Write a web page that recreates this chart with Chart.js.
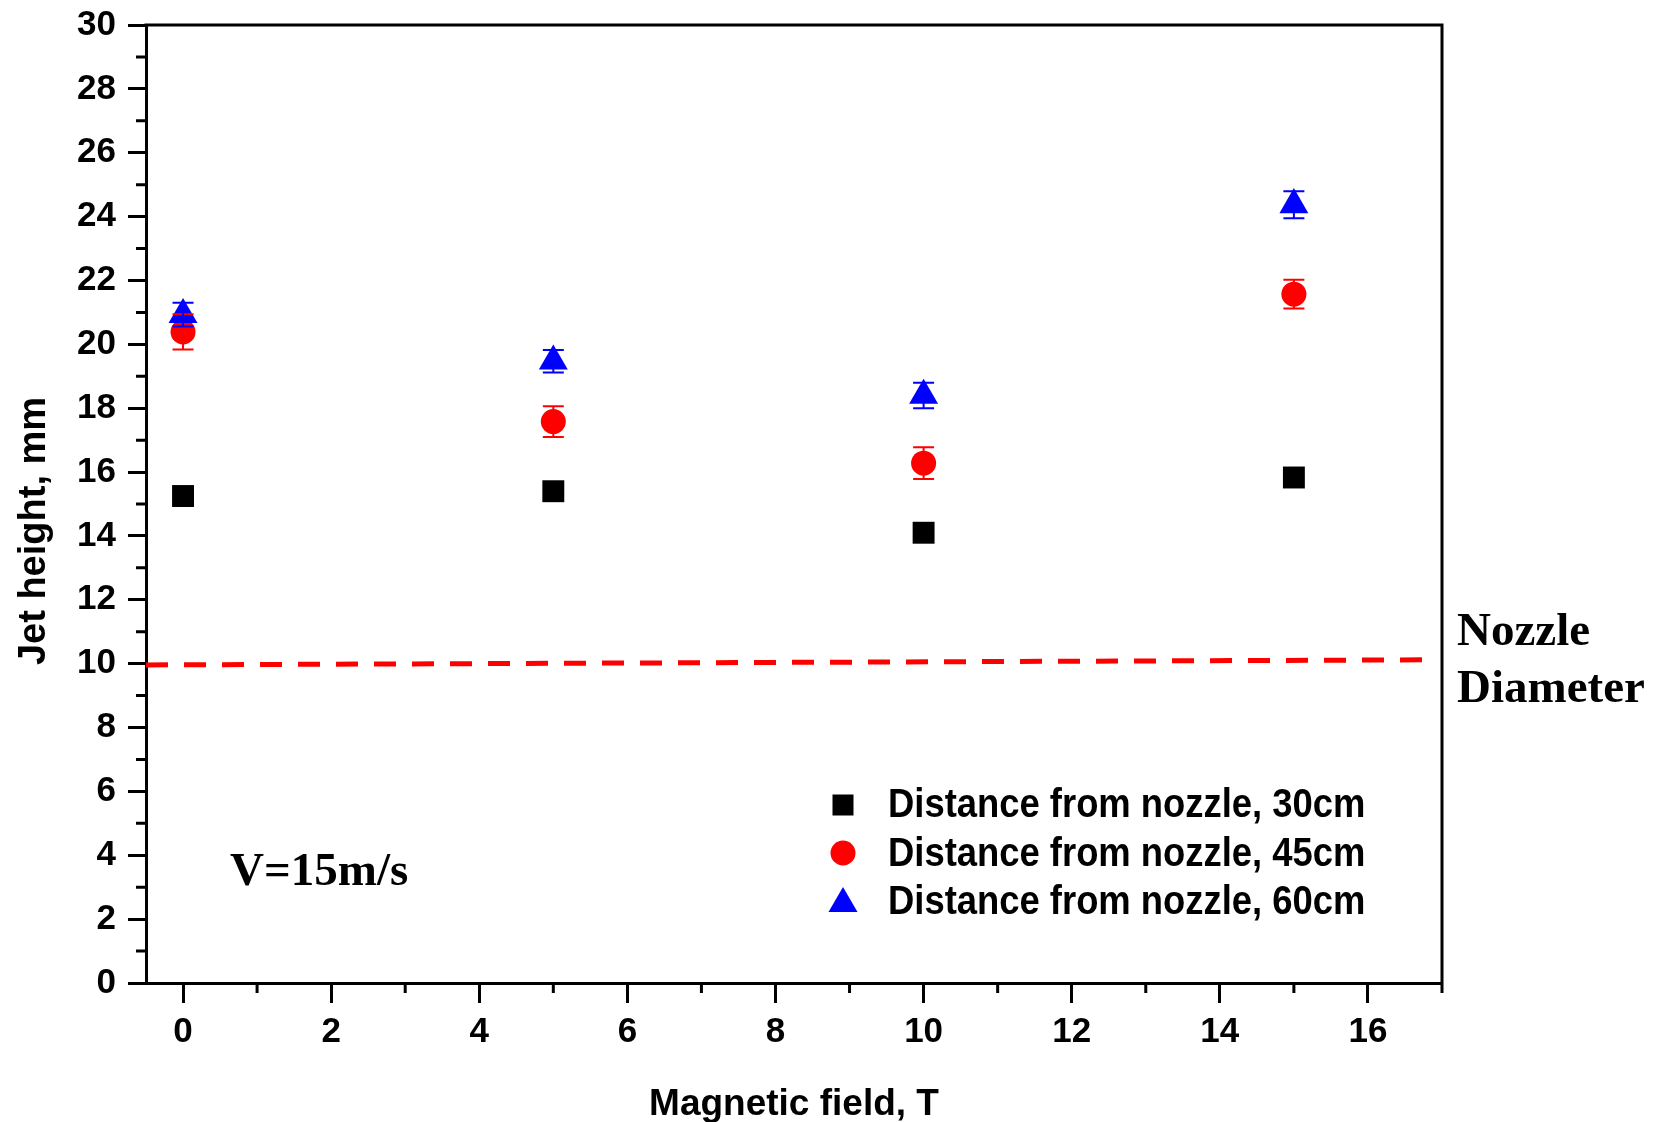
<!DOCTYPE html>
<html>
<head>
<meta charset="utf-8">
<script src="https://cdn.jsdelivr.net/npm/chart.js@4.4.1/dist/chart.umd.min.js"></script>
<style>
html,body{margin:0;padding:0;background:#fff;}
#wrap{width:1668px;height:1122px;position:relative;}
</style>
</head>
<body>
<div id="wrap"><canvas id="c"></canvas></div>
<script>
// ---- data ----
const fieldT = [0, 5, 10, 15];
const height30 = [15.25, 15.40, 14.10, 15.83];
const height45 = [20.39, 17.58, 16.28, 21.57];
const err45 = [0.55, 0.48, 0.50, 0.45];
const height60 = [20.93, 19.47, 18.40, 24.37];
const err60 = [0.37, 0.35, 0.40, 0.42];
const nozzleX = [-0.5, 16.78];
const nozzleY = [9.96, 10.12];
const seriesLabels = ['Distance from nozzle, 30cm', 'Distance from nozzle, 45cm', 'Distance from nozzle, 60cm'];
const xTitle = 'Magnetic field, T';
const yTitle = 'Jet height, mm';
const noteText = 'V=15m/s';
const nozzleText = ['Nozzle', 'Diameter'];
const xRange = [-0.5, 17];
const yRange = [0, 30];
const xMajorTickLabels = ['0','2','4','6','8','10','12','14','16'];
const yMajorTickLabels = ['0','2','4','6','8','10','12','14','16','18','20','22','24','26','28','30'];

const toPts = (xs, ys) => xs.map((v, i) => ({x: v, y: ys[i]}));
const isMajorX = v => xMajorTickLabels.includes(String(v));
const isMajorY = v => yMajorTickLabels.includes(String(v));

Chart.defaults.font.family = "'Liberation Sans', Arial, sans-serif";
Chart.defaults.color = '#000';

const deco = {
  id: 'deco',
  afterDatasetsDraw(chart) {
    const {ctx, scales: {x, y}} = chart;
    chart.data.datasets.forEach(ds => {
      if (!ds.errors) return;
      ctx.save();
      ctx.strokeStyle = ds.borderColor;
      ctx.lineWidth = 2;
      ds.data.forEach((p, i) => {
        const e = ds.errors[i];
        const px = x.getPixelForValue(p.x);
        const y1 = y.getPixelForValue(p.y + e);
        const y2 = y.getPixelForValue(p.y - e);
        ctx.beginPath();
        ctx.moveTo(px, y1); ctx.lineTo(px, y2);
        ctx.moveTo(px - 10.5, y1); ctx.lineTo(px + 10.5, y1);
        ctx.moveTo(px - 10.5, y2); ctx.lineTo(px + 10.5, y2);
        ctx.stroke();
      });
      ctx.restore();
    });
  },
  afterDraw(chart) {
    const {ctx, chartArea: a, scales: {x, y}} = chart;
    ctx.save();
    ctx.strokeStyle = '#000';
    ctx.lineWidth = 3;
    // top and right frame
    ctx.beginPath();
    ctx.moveTo(a.left - 1.5, a.top); ctx.lineTo(a.right, a.top);
    ctx.moveTo(a.right, a.top - 1.5); ctx.lineTo(a.right, a.bottom);
    ctx.stroke();
    // minor ticks
    ctx.beginPath();
    for (let v = Math.ceil(xRange[0]); v <= xRange[1]; v++) {
      if (isMajorX(v)) continue;
      const px = x.getPixelForValue(v);
      ctx.moveTo(px, a.bottom); ctx.lineTo(px, a.bottom + 10);
    }
    for (let v = yRange[0]; v <= yRange[1]; v++) {
      if (isMajorY(v)) continue;
      const py = y.getPixelForValue(v);
      ctx.moveTo(a.left - 10, py); ctx.lineTo(a.left, py);
    }
    ctx.stroke();

    // y axis title
    ctx.fillStyle = '#000';
    ctx.font = "bold 38px 'Liberation Sans', Arial, sans-serif";
    ctx.textAlign = 'center';
    ctx.textBaseline = 'middle';
    ctx.save();
    ctx.translate(35, 531);
    ctx.rotate(-Math.PI / 2);
    ctx.fillText(yTitle, 0, 0);
    ctx.restore();

    // legend
    const lx = 843;
    const rows = [805, 853, 899];
    ctx.fillStyle = '#000';
    ctx.fillRect(lx - 10.5, rows[0] - 10.5, 21, 21);
    ctx.fillStyle = '#f00';
    ctx.beginPath(); ctx.arc(lx, rows[1], 12.5, 0, Math.PI * 2); ctx.fill();
    ctx.fillStyle = '#00f';
    ctx.beginPath();
    ctx.moveTo(lx, 887); ctx.lineTo(lx + 14.5, 912); ctx.lineTo(lx - 14.5, 912); ctx.closePath(); ctx.fill();
    ctx.fillStyle = '#000';
    ctx.font = "bold 40px 'Liberation Sans', Arial, sans-serif";
    ctx.textBaseline = 'alphabetic';
    ctx.textAlign = 'left';
    const baselines = [817, 866, 914];
    seriesLabels.forEach((t, i) => {
      ctx.save();
      ctx.translate(888, baselines[i]);
      ctx.scale(0.91, 1);
      ctx.fillText(t, 0, 0);
      ctx.restore();
    });

    // annotations
    ctx.font = "bold 47px 'Liberation Serif', 'Times New Roman', serif";
    ctx.fillText(noteText, 230, 885);
    ctx.font = "bold 47px 'Liberation Serif', 'Times New Roman', serif";
    ctx.fillText(nozzleText[0], 1457, 645);
    ctx.fillText(nozzleText[1], 1457, 702);
    ctx.restore();
  }
};

new Chart(document.getElementById('c'), {
  type: 'scatter',
  data: {
    datasets: [
      {label: seriesLabels[0], data: toPts(fieldT, height30), pointStyle: 'rect', pointRadius: 15.5,
       backgroundColor: '#000', borderColor: '#000', borderWidth: 0, order: 2},
      {label: seriesLabels[1], data: toPts(fieldT, height45), pointStyle: 'circle', pointRadius: 12.5,
       backgroundColor: '#f00', borderColor: '#f00', borderWidth: 0, order: 1, errors: err45},
      {label: seriesLabels[2], data: toPts(fieldT, height60), pointStyle: 'triangle', pointRadius: 16.7,
       backgroundColor: '#00f', borderColor: '#00f', borderWidth: 0, order: 0, errors: err60},
      {type: 'line', label: 'Nozzle Diameter', data: toPts(nozzleX, nozzleY), borderColor: '#f00',
       borderWidth: 5, borderDash: [22, 16], pointRadius: 0, fill: false, order: 3}
    ]
  },
  options: {
    responsive: true,
    maintainAspectRatio: false,
    animation: false,
    events: [],
    layout: {padding: {left: 0, top: 25, right: 226, bottom: 0}},
    plugins: {legend: {display: false}, tooltip: {enabled: false}},
    scales: {
      x: {
        type: 'linear', position: 'bottom', min: xRange[0], max: xRange[1],
        ticks: {
          stepSize: 1, autoSkip: false, includeBounds: false, maxRotation: 0, padding: 8,
          font: {size: 35, weight: 'bold'}, color: '#000',
          callback: v => (isMajorX(v) ? String(v) : '')
        },
        grid: {
          display: true, drawOnChartArea: false, drawTicks: true, tickLength: 20, tickWidth: 3,
          tickColor: c => (c.tick && isMajorX(c.tick.value) ? '#000' : 'rgba(0,0,0,0)')
        },
        border: {display: true, color: '#000', width: 3},
        title: {display: true, text: xTitle, color: '#000', font: {size: 37, weight: 'bold'}, padding: {top: 0, bottom: -5}},
        afterFit: s => { s.height = 139; s.paddingLeft = 0; s.paddingRight = 0; }
      },
      y: {
        type: 'linear', position: 'left', min: yRange[0], max: yRange[1],
        ticks: {
          stepSize: 1, autoSkip: false, padding: 12,
          font: {size: 35, weight: 'bold'}, color: '#000',
          callback: v => (isMajorY(v) ? String(v) : '')
        },
        grid: {
          display: true, drawOnChartArea: false, drawTicks: true, tickLength: 18, tickWidth: 3,
          tickColor: c => (c.tick && isMajorY(c.tick.value) ? '#000' : 'rgba(0,0,0,0)')
        },
        border: {display: true, color: '#000', width: 3},
        title: {display: false},
        afterFit: s => { s.width = 146; s.paddingTop = 0; s.paddingBottom = 0; }
      }
    }
  },
  plugins: [deco]
});
</script>
</body>
</html>
